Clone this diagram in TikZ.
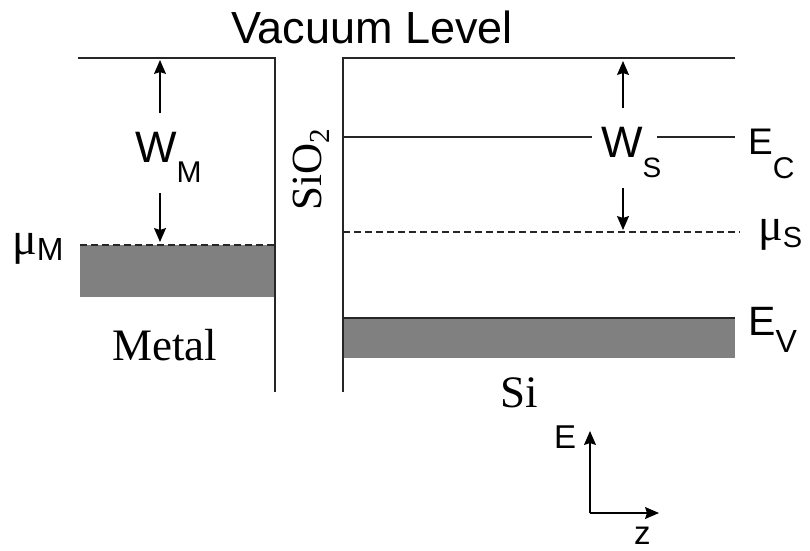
\documentclass[tikz,border=0pt]{standalone}
\usepackage{fontspec}
\setmainfont{Liberation Serif}
\newfontfamily\lsans{Liberation Sans}
\newfontfamily\lserif{Liberation Serif}
\usetikzlibrary{arrows.meta}
\definecolor{bandgray}{RGB}{128,128,128}
\newcommand{\fsz}[1]{\fontsize{#1}{#1}\selectfont}
% main, sub, size, subsize, drop
\newcommand{\sublbl}[5]{{\lsans\fsz{#3}#1}\raisebox{-#5pt}{\lsans\fsz{#4}#2}}
\newcommand{\mulbl}[5]{{\lserif\fsz{#3}#1}\raisebox{-#5pt}{\lsans\fsz{#4}#2}}
\begin{document}
\begin{tikzpicture}[x=1pt,y=-1pt,
  lvl/.style={line width=1.2pt,draw=black!85},
  fermi/.style={line width=1.1pt,draw=black!85,dash pattern=on 7pt off 4pt},
  band/.style={fill=bandgray,draw=none},
  wfarrow/.style={line width=1.3pt,-{Stealth[length=14pt,width=12pt,inset=2pt]}},
  lab/.style={inner sep=0pt,anchor=base west}]
\useasboundingbox (0,0) rectangle (810,550);

% coordinates
\coordinate (vlL1) at (78,58);  \coordinate (vlL2) at (275,58);
\coordinate (vlR1) at (343,58); \coordinate (vlR2) at (735,58);
\coordinate (wallLb) at (275,392); \coordinate (wallRb) at (343,392);
\coordinate (ecL1) at (343,137); \coordinate (ecL2) at (592,137);
\coordinate (ecR1) at (657,137); \coordinate (ecR2) at (735,137);
\coordinate (muS1) at (343,232); \coordinate (muS2) at (740,232);
\coordinate (muM1) at (80,245);  \coordinate (muM2) at (275,245);
\coordinate (evL) at (343,318);  \coordinate (evR) at (735,318);

% metal band
\fill[band] (80,245) rectangle (275,297);
% valence band
\fill[band] (343,318) rectangle (735,358);

% vacuum levels and walls
\draw[lvl] (vlL1) -- (vlL2) -- (wallLb);
\draw[lvl] (wallRb) -- (vlR1) -- (vlR2);
% conduction band edge
\draw[lvl] (ecL1) -- (ecL2);
\draw[lvl] (ecR1) -- (ecR2);
% valence edge
\draw[lvl] (evL) -- (evR);
% Fermi levels
\draw[fermi] (muM1) -- (muM2);
\draw[fermi] (muS1) -- (muS2);

% work function arrows
\coordinate (wmA) at (160,113); \coordinate (wmAt) at (160,60);
\coordinate (wmB) at (160,193); \coordinate (wmBt) at (160,242);
\draw[wfarrow] (wmA) -- (wmAt);
\draw[wfarrow] (wmB) -- (wmBt);
\coordinate (wsA) at (623,108); \coordinate (wsAt) at (623,61);
\coordinate (wsB) at (623,188); \coordinate (wsBt) at (623,230);
\draw[wfarrow] (wsA) -- (wsAt);
\draw[wfarrow] (wsB) -- (wsBt);

% labels
\node[lab] (vac) at (231,43) {\lsans\fsz{45}Vacuum Level};
\node[lab] (wm) at (135,162) {\sublbl{W}{M}{44}{30}{20}};
\node[lab] (ws) at (601,157) {\sublbl{W}{S}{44}{28}{20}};
\node[lab] (ec) at (748,154) {\sublbl{E}{C}{37}{30}{24}};
\node[lab] (ev) at (748,335) {\sublbl{E}{V}{41}{32}{17}};
\node[lab] (mus) at (758,240) {\mulbl{μ}{S}{46}{29}{7}};
\node[lab] (mum) at (12,254) {\mulbl{μ}{M}{46}{32}{6}};
\node[lab,rotate=90] (sio) at (321,211) {\lserif\fsz{43}SiO\raisebox{-8pt}{\fsz{29}2}};
\node[lab] (metal) at (112,360) {\lserif\fsz{45}Metal};
\node[lab] (si) at (500,407) {\lserif\fsz{45}Si};

% axes
\coordinate (ax0) at (590,513);
\coordinate (axE) at (590,431);
\coordinate (axZ) at (659,513);
\draw[wfarrow] (ax0) -- (axE);
\draw[wfarrow] (ax0) -- (axZ);
\node[lab] (eax) at (554,448) {\lsans\fsz{33}E};
\node[lab] (zax) at (634,544) {\lsans\fsz{33}z};
\end{tikzpicture}
\end{document}
